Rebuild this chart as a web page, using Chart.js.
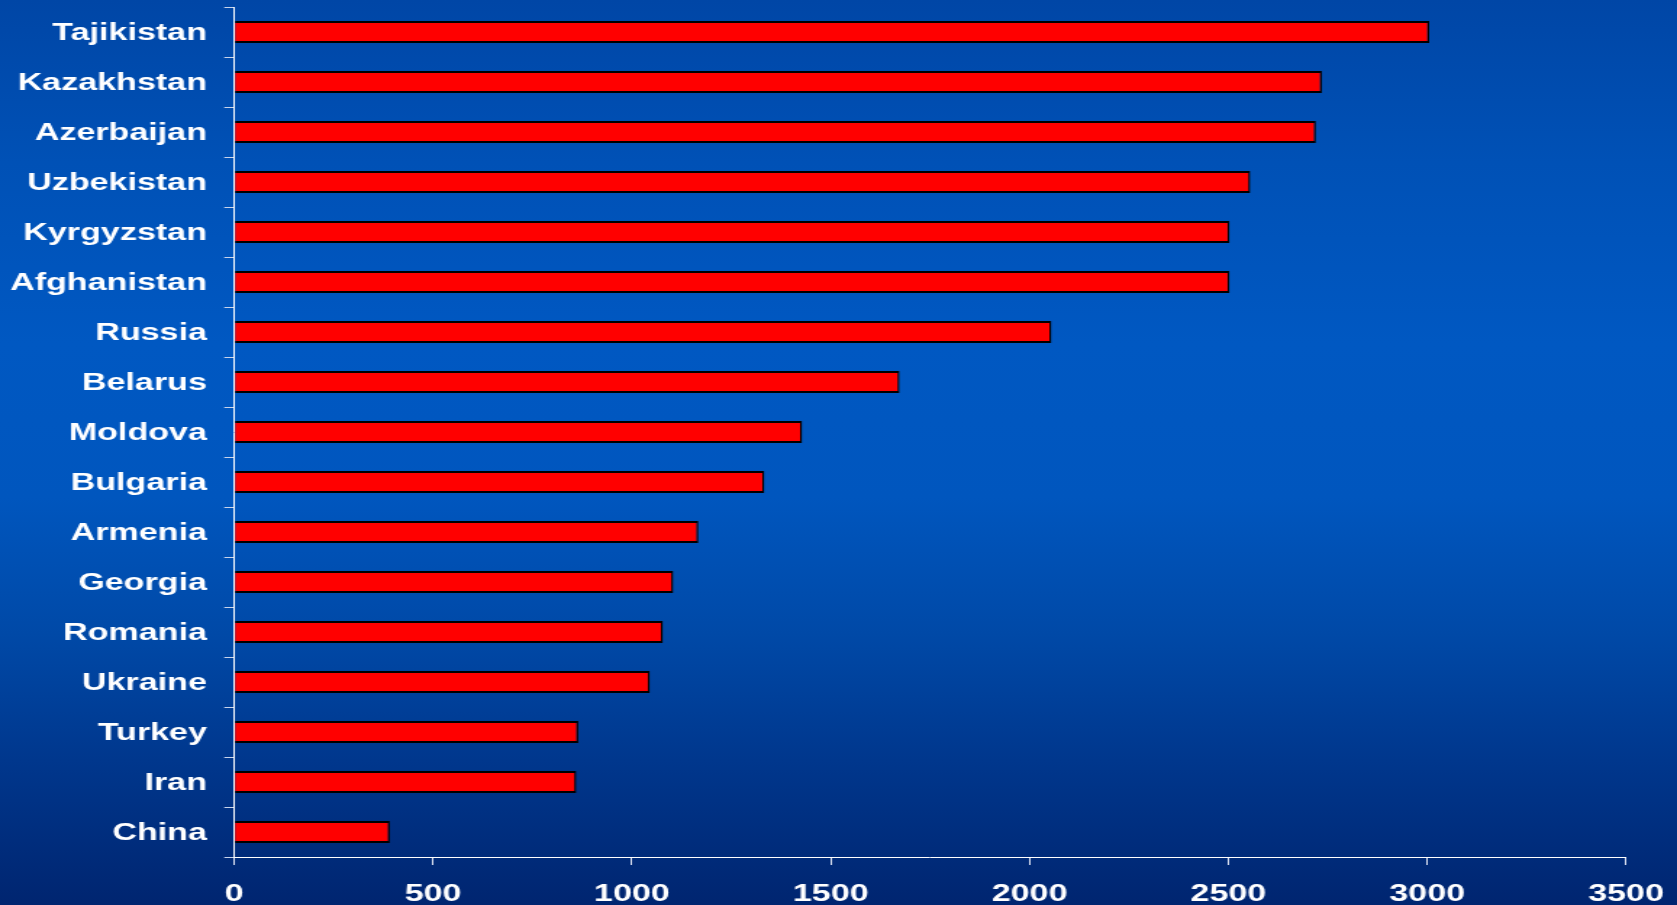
<!DOCTYPE html>
<html>
<head>
<meta charset="utf-8">
<script src="https://cdn.jsdelivr.net/npm/chart.js@4/dist/chart.umd.min.js"></script>
<style>
  html, body { margin: 0; padding: 0; width: 1677px; height: 905px; overflow: hidden; }
  body {
    background: linear-gradient(to bottom,
      #0046a6 0%, #0051b6 18%, #0058c2 38%, #0056be 55%,
      #0049a7 70%, #00378d 84%, #002570 100%);
  }
  #chart { display: block; }
</style>
</head>
<body>
<!-- the drawing buffer is narrower than the page and is widened by its inline size,
     giving the broad, horizontally stretched lettering -->
<canvas id="chart" width="1157" height="905" style="width:1677px;height:905px"></canvas>
<script>
const countries = [
  'Tajikistan', 'Kazakhstan', 'Azerbaijan', 'Uzbekistan', 'Kyrgyzstan',
  'Afghanistan', 'Russia', 'Belarus', 'Moldova', 'Bulgaria', 'Armenia',
  'Georgia', 'Romania', 'Ukraine', 'Turkey', 'Iran', 'China'
];
const values = [
  3005, 2735, 2720, 2555, 2503, 2503, 2055, 1673, 1428, 1333, 1167,
  1104, 1078, 1045, 865, 860, 391
];
const xTickValues = [0, 500, 1000, 1500, 2000, 2500, 3000, 3500];

const STRETCH = 1677 / 1157;          // horizontal widening of the canvas
const AXIS_LEFT = 234.3;              // page x of the value axis origin
const AXIS_RIGHT = 1626;              // page x of the 3500 end
const FONT = { family: '"Liberation Sans", Arial, sans-serif', size: 23.5, weight: 'bold', lineHeight: 1.2 };

new Chart(document.getElementById('chart'), {
  type: 'bar',
  data: {
    labels: countries,
    datasets: [{
      data: values,
      backgroundColor: '#ff0000',
      borderColor: '#000000',
      borderWidth: { top: 2, bottom: 2, right: 1.4, left: 0 },
      borderSkipped: 'start',
      categoryPercentage: 1,
      barPercentage: 0.44
    }]
  },
  options: {
    indexAxis: 'y',
    responsive: false,
    animation: false,
    events: [],
    layout: { padding: { top: 7, right: (1677 - AXIS_RIGHT) / STRETCH, bottom: 0, left: 0 } },
    plugins: { legend: { display: false }, tooltip: { enabled: false } },
    scales: {
      y: {
        type: 'category',
        grid: { display: true, drawOnChartArea: false, drawTicks: true, offset: true,
                tickLength: 10 / STRETCH, color: '#c8d4ec', lineWidth: 1 },
        border: { display: true, color: '#ffffff', width: 1 },
        ticks: { color: '#ffffff', font: FONT, padding: 12, autoSkip: false, labelOffset: 2 },
        afterFit: s => {
          s.width = AXIS_LEFT / STRETCH;
          s.paddingTop = 0;
          s.paddingBottom = 0;
        }
      },
      x: {
        type: 'linear',
        min: 0,
        max: 3500,
        grid: { display: true, drawOnChartArea: false, drawTicks: true,
                tickLength: 8, color: '#e0e6f4', lineWidth: 1 },
        border: { display: true, color: '#ffffff', width: 1 },
        ticks: { color: '#ffffff', font: FONT, padding: 15.5, maxRotation: 0,
                 callback: v => String(v) },
        afterBuildTicks: s => { s.ticks = xTickValues.map(v => ({ value: v })); },
        afterFit: s => {
          s.height = 905 - 857;
          s.paddingLeft = 0;
          s.paddingRight = 0;
        }
      }
    }
  }
});
</script>
</body>
</html>
